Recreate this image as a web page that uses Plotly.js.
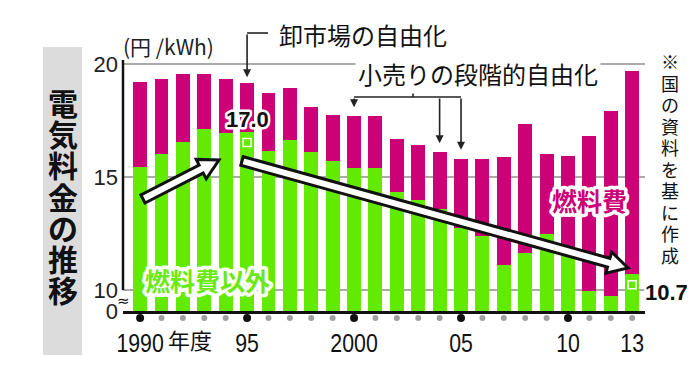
<!DOCTYPE html>
<html><head><meta charset="utf-8">
<script src="https://cdn.plot.ly/plotly-3.0.1.min.js"></script>
<style>html,body{margin:0;padding:0;background:#fff}#chart{width:699px;height:373px}</style>
</head><body><div id="chart"></div>
<script>
// ---- data (円/kWh) ----
const years = [1990,1991,1992,1993,1994,1995,1996,1997,1998,1999,2000,2001,2002,2003,2004,2005,2006,2007,2008,2009,2010,2011,2012,2013];
const totalCost = [19.20,19.35,19.58,19.58,19.33,19.15,18.71,18.95,18.09,17.75,17.69,17.68,16.69,16.40,16.10,15.81,15.81,15.88,17.33,16.00,15.91,16.80,17.94,19.71];
const nonFuelCost = [15.43,16.03,16.54,17.14,16.96,17.00,16.15,16.65,16.10,15.69,15.40,15.40,14.34,13.97,13.60,12.75,12.38,11.10,11.62,12.48,11.54,9.95,9.72,10.70];
const fuelCost = totalCost.map((t,i)=> +(t - nonFuelCost[i]).toFixed(2));
const tickYears = [1990,1995,2000,2005,2010,2013];
const tickLabels = ['1990','95','2000','05','10','13'];
const yTickLabels = ['0','10','15','20'];
const wholesaleYear = 1995;          // 卸市場の自由化
const retailYears = [2000,2004,2005]; // 小売りの段階的自由化
const markYears = [1995,2013];

// ---- layout geometry ----
const X0=1989.2, X1=2013.6, Y0=9.07, Y1=20.18, PL=123, PT=60, PW=522, PH=251;
const xpix = v => PL + (v-X0)/(X1-X0)*PW;
const ypix = v => PT + (Y1-v)/(Y1-Y0)*PH;
const paperX = p => (p-PL)/PW;
const paperY = p => (PT+PH-p)/PH;
const JP = 'Noto Sans CJK JP, Noto Sans, sans-serif';
const SANS = 'Liberation Sans, Arial, sans-serif';
const GREEN = '#62EB00', MAGENTA = '#CC0077';

const annotations = [];
const halo = [];
function ann(o, h){ if(h) halo.push({i:annotations.length, w:h}); annotations.push(Object.assign({showarrow:false}, o)); }

// vertical title
'電気料金の推移'.split('').forEach((ch,k)=>ann({xref:'paper',yref:'paper',x:paperX(62.5),y:paperY(102+31.2*k),
  text:'<b>'+ch+'</b>',font:{family:JP,size:30,color:'#111'},xanchor:'center',yanchor:'middle'}));
// right note
'※国の資料を基に作成'.split('').forEach((ch,k)=>ann({xref:'paper',yref:'paper',x:paperX(670),y:paperY(61+21.5*k),
  text:ch,font:{family:JP,size:18,color:'#111'},xanchor:'center',yanchor:'middle'}));
// unit
ann({xref:'paper',yref:'paper',x:paperX(121),y:paperY(46),text:'(円 /kWh)',font:{family:JP,size:21,color:'#222'},xanchor:'left',yanchor:'middle'});
// 年度
ann({xref:'paper',yref:'paper',x:paperX(166),y:paperY(339),text:'年度',font:{family:JP,size:22,color:'#111'},xanchor:'left',yanchor:'middle'});
// break mark
ann({xref:'paper',yref:'paper',x:0,y:paperY(301),text:'≈',font:{family:'DejaVu Sans',size:15,color:'#111'},xanchor:'center',yanchor:'middle'});

// 卸市場の自由化
const wi = years.indexOf(wholesaleYear);
ann({xref:'paper',yref:'paper',x:paperX(277),y:paperY(34),text:'卸市場の自由化',font:{family:JP,size:24,color:'#111'},xanchor:'left',yanchor:'middle'});
{ const tipY = ypix(totalCost[wi])-6; ann({x:wholesaleYear,y:totalCost[wi],yshift:6,ax:0,ay:33-tipY,text:'',showarrow:true,arrowhead:2,arrowsize:1,arrowwidth:1.6,arrowcolor:'#222',standoff:0}); }
// 小売りの段階的自由化
ann({xref:'paper',yref:'paper',x:paperX(478),y:paperY(74),text:'小売りの段階的自由化',font:{family:JP,size:24,color:'#111'},xanchor:'center',yanchor:'middle',bgcolor:'#fff',borderpad:2});
retailYears.forEach(yr=>{ const i=years.indexOf(yr); const tipY=ypix(totalCost[i])-9;
  ann({x:yr,y:totalCost[i],yshift:9,ax:0,ay:97-tipY,text:'',showarrow:true,arrowhead:2,arrowsize:1,arrowwidth:1.6,arrowcolor:'#222',standoff:0}); });

// value labels
const i95 = years.indexOf(markYears[0]), i13 = years.indexOf(markYears[1]);
ann({x:markYears[0],y:nonFuelCost[i95],yshift:12,text:'<b>'+nonFuelCost[i95].toFixed(1)+'</b>',font:{family:SANS,size:22,color:'#111'},xanchor:'center',yanchor:'middle'},5);
ann({x:markYears[1],y:nonFuelCost[i13],xshift:34,yshift:-18,text:'<b>'+nonFuelCost[i13].toFixed(1)+'</b>',font:{family:SANS,size:22,color:'#111'},xanchor:'center',yanchor:'middle'},5);
// series labels
ann({xref:'paper',yref:'paper',x:paperX(207),y:paperY(280),text:'<b>燃料費以外</b>',font:{family:JP,size:25,color:'#6BEA12'},xanchor:'center',yanchor:'middle'},7);
ann({xref:'paper',yref:'paper',x:paperX(589),y:paperY(200),text:'<b>燃料費</b>',font:{family:JP,size:25,color:MAGENTA},xanchor:'center',yanchor:'middle'},7);

// big arrows (pixel paths anchored at data point)
const AX = 1990, AY = 10, ax0 = xpix(AX), ay0 = ypix(AY);
function arrowPath(t, p, w, hw, hl){
  const dx=p[0]-t[0], dy=p[1]-t[1], len=Math.hypot(dx,dy), ux=dx/len, uy=dy/len, nx=-uy, ny=ux;
  const bx=p[0]-ux*hl, by=p[1]-uy*hl;
  const pts=[[t[0]+nx*w,t[1]+ny*w],[bx+nx*w,by+ny*w],[bx+nx*hw,by+ny*hw],p,[bx-nx*hw,by-ny*hw],[bx-nx*w,by-ny*w],[t[0]-nx*w,t[1]-ny*w]];
  return 'M'+pts.map(q=>(q[0]-ax0).toFixed(1)+','+(ay0-q[1]).toFixed(1)).join(' L')+' Z';
}
const shapes = [
  {type:'rect',xref:'paper',yref:'paper',x0:paperX(43),x1:paperX(82),y0:paperY(355),y1:paperY(47),fillcolor:'#dcdcdc',line:{width:0},layer:'below'},
  {type:'line',xref:'paper',yref:'y',x0:0,x1:0,y0:10,y1:Y1,line:{color:'#111',width:2.5}},
  {type:'line',xref:'paper',yref:'paper',x0:paperX(xpix(wholesaleYear)),x1:paperX(268),y0:paperY(33),y1:paperY(33),line:{color:'#222',width:1.6}},
  {type:'line',xref:'x',yref:'paper',x0:retailYears[0],x1:retailYears[2],y0:paperY(97),y1:paperY(97),line:{color:'#222',width:1.6}},
  {type:'line',xref:'paper',yref:'paper',x0:paperX(413),x1:paperX(413),y0:paperY(97),y1:paperY(87),line:{color:'#222',width:1.6}},
  {type:'path',xref:'x',yref:'y',xsizemode:'pixel',ysizemode:'pixel',xanchor:AX,yanchor:AY,path:arrowPath([143,199],[219,160],4.5,11,20),fillcolor:'#fff',line:{color:'#111',width:3}},
  {type:'path',xref:'x',yref:'y',xsizemode:'pixel',ysizemode:'pixel',xanchor:AX,yanchor:AY,path:arrowPath([242,161],[628,268],4.5,11,20),fillcolor:'#fff',line:{color:'#111',width:3}}
];
// year dots under the axis
years.forEach(yr=>{ const big = yr%5===0; const r = big?4:3;
  shapes.push({type:'circle',xref:'x',yref:'paper',xsizemode:'pixel',ysizemode:'pixel',xanchor:yr,yanchor:paperY(318),
    x0:-r,x1:r,y0:-r,y1:r,fillcolor:big?'#111':'#a0a0a0',line:{width:0}}); });

const traces = [
  {type:'bar',x:years,y:nonFuelCost,marker:{color:GREEN},width:0.65,hoverinfo:'skip',name:'燃料費以外'},
  {type:'bar',x:years,y:fuelCost,marker:{color:MAGENTA},width:0.65,hoverinfo:'skip',name:'燃料費'},
  {type:'scatter',mode:'markers',x:markYears,y:[nonFuelCost[i95]-0.47,nonFuelCost[i13]-0.47],cliponaxis:false,
    marker:{symbol:'square-open',color:'#fff',size:8,line:{width:1.5}},hoverinfo:'skip'}
];

const layout = {
  width:699,height:373,margin:{l:PL,r:699-PL-PW,t:PT,b:373-PT-PH},
  paper_bgcolor:'#fff',plot_bgcolor:'#fff',showlegend:false,barmode:'stack',
  xaxis:{range:[X0,X1],tickvals:tickYears,ticktext:tickLabels,ticks:'',showgrid:false,zeroline:false,
    showline:true,linecolor:'#111',linewidth:2.5,tickfont:{family:SANS,size:26,color:'#111'},ticklabelstandoff:7,fixedrange:true},
  yaxis:{range:[Y0,Y1],tickvals:[Y0,10,15,20],ticktext:yTickLabels,ticks:'',showgrid:true,gridcolor:'#aaa',gridwidth:1.5,
    zeroline:false,showline:false,tickfont:{family:SANS,size:22,color:'#222'},ticklabelstandoff:4,fixedrange:true},
  shapes, annotations
};

const css = halo.map(h=>`.annotation[data-index="${h.i}"] text{paint-order:stroke;stroke:#fff;stroke-width:${h.w}px;stroke-linejoin:round;}`).join('\n');
const st = document.createElement('style'); st.textContent = css; document.head.appendChild(st);
Plotly.newPlot('chart', traces, layout, {displayModeBar:false, staticPlot:true}).then(gd=>{
  // condense the year labels horizontally, as in the original typeface
  gd.querySelectorAll('.xtick text').forEach(t=>{ t.setAttribute('transform',(t.getAttribute('transform')||'')+' scale(0.82,1)'); });
});
</script></body></html>
